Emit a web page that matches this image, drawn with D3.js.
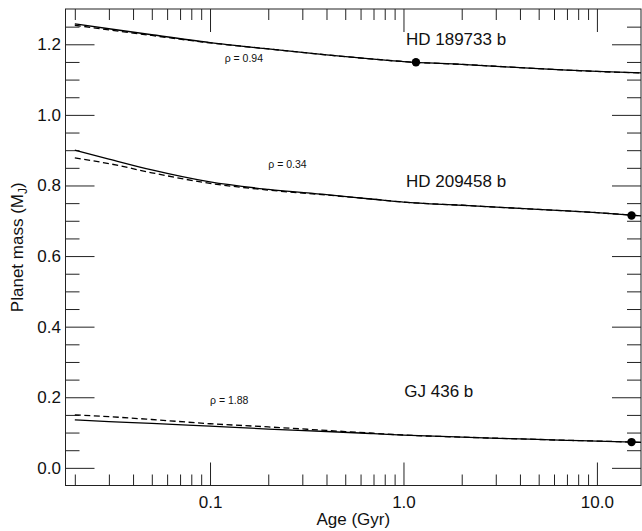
<!DOCTYPE html>
<html>
<head>
<meta charset="utf-8">
<script src="https://cdn.jsdelivr.net/npm/d3@7"></script>
<style>
  html, body { margin: 0; padding: 0; background: #fff; }
  svg { display: block; font-family: "Liberation Sans", Arial, Helvetica, sans-serif; }
</style>
</head>
<body>
<svg id="chart" width="642" height="531"></svg>
<script>
// ---- Data ----
const ages = [0.02, 0.03, 0.05, 0.1, 0.2, 0.4, 0.7, 1.0, 2, 4, 7, 10, 16.9];

const hd189733Solid  = [1.258, 1.244, 1.227, 1.205, 1.187, 1.170, 1.158, 1.151, 1.143, 1.134, 1.127, 1.123, 1.119];
const hd189733Dashed = [1.254, 1.241, 1.225, 1.204, 1.187, 1.170, 1.158, 1.151, 1.143, 1.134, 1.127, 1.123, 1.119];

const hd209458Solid  = [0.900, 0.875, 0.844, 0.810, 0.789, 0.774, 0.761, 0.753, 0.744, 0.735, 0.728, 0.723, 0.714];
const hd209458Dashed = [0.878, 0.862, 0.836, 0.806, 0.787, 0.773, 0.761, 0.753, 0.744, 0.735, 0.728, 0.723, 0.714];

const gj436Solid  = [0.136, 0.131, 0.126, 0.118, 0.110, 0.103, 0.097, 0.093, 0.087, 0.082, 0.078, 0.076, 0.072];
const gj436Dashed = [0.150, 0.145, 0.137, 0.125, 0.116, 0.106, 0.098, 0.093, 0.087, 0.082, 0.078, 0.076, 0.072];

const planetNames = ["HD 189733 b", "HD 209458 b", "GJ 436 b"];
const currentAges = [1.16, 15.1, 15.1];
const currentMasses = [1.149, 0.715, 0.073];
const rhoLabels = ["\u03C1 = 0.94", "\u03C1 = 0.34", "\u03C1 = 1.88"];
// annotation anchors in data space (age, mass)
const nameAnchorAges = [1.03, 1.03, 1.01];
const nameAnchorMasses = [1.198, 0.795, 0.200];
const rhoAnchorAges = [0.119, 0.20, 0.10];
const rhoAnchorMasses = [1.151, 0.850, 0.180];

const xMajorTicks = [0.1, 1, 10];
const xMajorLabels = ["0.1", "1.0", "10.0"];
const xMinorTicks = [0.02,0.03,0.04,0.05,0.06,0.07,0.08,0.09,0.2,0.3,0.4,0.5,0.6,0.7,0.8,0.9,2,3,4,5,6,7,8,9];
const yMajorTicks = [0.0, 0.2, 0.4, 0.6, 0.8, 1.0, 1.2];
const yMajorLabels = ["0.0", "0.2", "0.4", "0.6", "0.8", "1.0", "1.2"];
const yMinorTicks = [0.05,0.1,0.15,0.25,0.3,0.35,0.45,0.5,0.55,0.65,0.7,0.75,0.85,0.9,0.95,1.05,1.1,1.15,1.25];

// ---- Layout ----
const L = 65.5, R = 641, T = 9, B = 485.5;
const svg = d3.select("#chart");

const x = d3.scaleLog().domain([0.0179, 16.9]).range([L, R]);
const y = d3.scaleLinear().domain([-0.05, 1.3]).range([B, T]);

const axisColor = "#222";
const MAJ_X = 23, MIN_X = 11, MAJ_Y = 29, MIN_Y = 14;

function styleAxis(g) {
  g.select(".domain").remove();
  g.selectAll(".tick line").attr("stroke", axisColor).attr("stroke-width", 1);
  g.selectAll(".tick text").attr("fill", "#111").attr("font-size", 17);
}

// bottom
svg.append("g").attr("transform", `translate(0,${B})`)
  .call(d3.axisBottom(x).tickValues(xMajorTicks).tickSize(-MAJ_X).tickPadding(10.5)
        .tickFormat((d, i) => xMajorLabels[i]))
  .call(styleAxis);
svg.append("g").attr("transform", `translate(0,${B})`)
  .call(d3.axisBottom(x).tickValues(xMinorTicks).tickSize(-MIN_X).tickFormat(""))
  .call(styleAxis);
// top
svg.append("g").attr("transform", `translate(0,${T})`)
  .call(d3.axisTop(x).tickValues(xMajorTicks).tickSize(-MAJ_X).tickFormat(""))
  .call(styleAxis);
svg.append("g").attr("transform", `translate(0,${T})`)
  .call(d3.axisTop(x).tickValues(xMinorTicks).tickSize(-MIN_X).tickFormat(""))
  .call(styleAxis);
// left
svg.append("g").attr("transform", `translate(${L},0)`)
  .call(d3.axisLeft(y).tickValues(yMajorTicks).tickSize(-MAJ_Y).tickPadding(4.5)
        .tickFormat((d, i) => yMajorLabels[i]))
  .call(styleAxis);
svg.append("g").attr("transform", `translate(${L},0)`)
  .call(d3.axisLeft(y).tickValues(yMinorTicks).tickSize(-MIN_Y).tickFormat(""))
  .call(styleAxis);
// right
svg.append("g").attr("transform", `translate(${R},0)`)
  .call(d3.axisRight(y).tickValues(yMajorTicks).tickSize(-MAJ_Y).tickFormat(""))
  .call(styleAxis);
svg.append("g").attr("transform", `translate(${R},0)`)
  .call(d3.axisRight(y).tickValues(yMinorTicks).tickSize(-MIN_Y).tickFormat(""))
  .call(styleAxis);

// frame
svg.append("rect").attr("x", L).attr("y", T).attr("width", R - L).attr("height", B - T)
  .attr("fill", "none").attr("stroke", axisColor).attr("stroke-width", 1);

// ---- Curves ----
const line = d3.line().x(d => x(d[0])).y(d => y(d[1])).curve(d3.curveMonotoneX);
const series = [
  { v: hd189733Solid, dash: null }, { v: hd189733Dashed, dash: "6,3.5" },
  { v: hd209458Solid, dash: null }, { v: hd209458Dashed, dash: "6,3.5" },
  { v: gj436Solid, dash: null },    { v: gj436Dashed, dash: "6,3.5" }
];
const plot = svg.append("g");
series.forEach(s => {
  plot.append("path")
    .datum(ages.map((a, i) => [a, s.v[i]]))
    .attr("d", line)
    .attr("fill", "none")
    .attr("stroke", "#000")
    .attr("stroke-width", 1.3)
    .attr("stroke-dasharray", s.dash);
});

// current-age dots
plot.selectAll("circle.now").data(currentAges).enter().append("circle")
  .attr("cx", d => x(d)).attr("cy", (d, i) => y(currentMasses[i]))
  .attr("r", 4.2).attr("fill", "#000");

// planet names
plot.selectAll("text.name").data(planetNames).enter().append("text")
  .attr("x", (d, i) => x(nameAnchorAges[i])).attr("y", (d, i) => y(nameAnchorMasses[i]))
  .attr("font-size", 17).attr("fill", "#111").text(d => d);

// rho labels
plot.selectAll("text.rho").data(rhoLabels).enter().append("text")
  .attr("x", (d, i) => x(rhoAnchorAges[i])).attr("y", (d, i) => y(rhoAnchorMasses[i]))
  .attr("font-size", 10.5).attr("fill", "#111").text(d => d);

// axis titles
svg.append("text").attr("x", (L + R) / 2).attr("y", 525)
  .attr("text-anchor", "middle").attr("font-size", 17).attr("fill", "#111")
  .text("Age (Gyr)");

const yt = svg.append("text")
  .attr("transform", `translate(23,${(T + B) / 2}) rotate(-90)`)
  .attr("text-anchor", "middle").attr("font-size", 17).attr("fill", "#111");
yt.append("tspan").text("Planet mass (M");
yt.append("tspan").attr("font-size", 12).attr("dy", 4).text("J");
yt.append("tspan").attr("dy", -4).text(")");
</script>
</body>
</html>
